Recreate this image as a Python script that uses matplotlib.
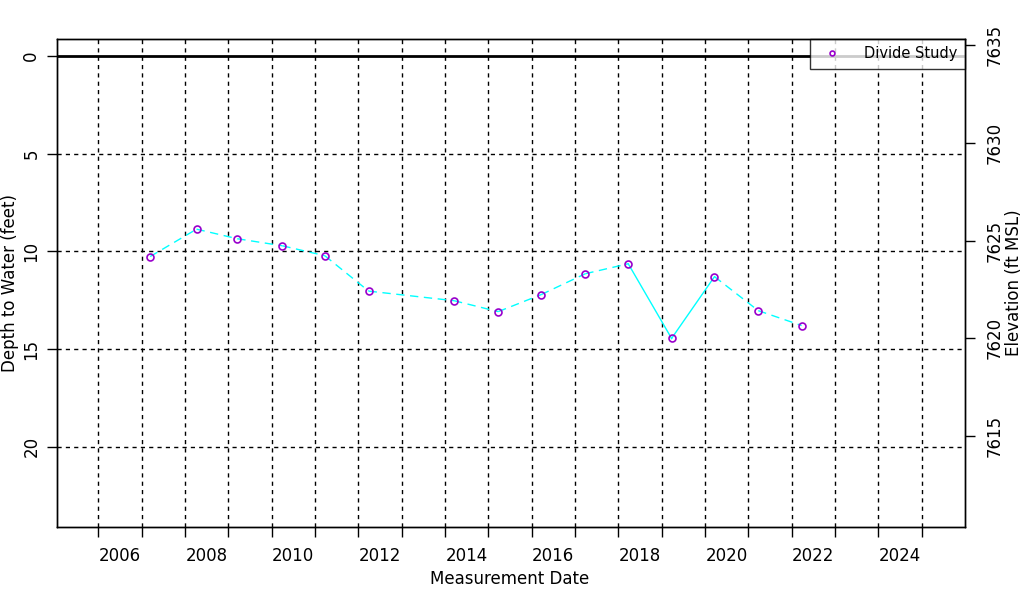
import numpy as np
import matplotlib
matplotlib.use('Agg')
from matplotlib import pyplot as plt

# measurement dates (decimal year) and depth to water (feet)
years = [2007.20, 2008.27, 2009.21, 2010.25, 2011.23, 2012.24, 2014.21, 2015.23,
         2016.22, 2017.24, 2018.23, 2019.23, 2020.22, 2021.23, 2022.23]
depth = [10.26, 8.86, 9.35, 9.71, 10.22, 12.03, 12.52, 13.08,
         12.21, 11.14, 10.63, 14.45, 11.29, 13.03, 13.79]
# segments joined by solid line (consecutive readings one year apart or less)
solid_segments = [(10, 11), (11, 12)]

ground_elev = 7634.45
tick_years = list(range(2006, 2026))
label_years = list(range(2006, 2025, 2))
depth_ticks = [0, 5, 10, 15, 20]
elev_ticks = [7615, 7620, 7625, 7630, 7635]

series_name = 'Divide Study'
line_color = 'cyan'
marker_color = '#9900cc'

plt.rcParams['font.family'] = 'DejaVu Sans'
fig = plt.figure(figsize=(10.24, 6.0), dpi=100)
ax = fig.add_axes([57/1024, 1-527/600, (965-57)/1024, (527-39)/600])

ymin, ymax = -0.87, 24.1
ax.set_xlim(2005.05, 2026.0)
ax.set_ylim(ymax, ymin)

# grid
for yr in tick_years:
    ax.axvline(yr, color='black', lw=1, ls=(0, (3, 3)), zorder=1)
for d in depth_ticks[1:]:
    ax.axhline(d, color='black', lw=1, ls=(0, (3, 3)), zorder=1)
ax.axhline(0, color='black', lw=2, zorder=2)

# connecting lines
for i in range(len(years) - 1):
    ls = '-' if (i, i+1) in solid_segments else (0, (6, 4))
    ax.plot(years[i:i+2], depth[i:i+2], color=line_color, lw=1, ls=ls, zorder=3)
ax.plot(years, depth, ls='none', marker='o', ms=5, mfc='none', mec=marker_color,
        mew=1.2, zorder=4, label=series_name)

ax.set_xticks(tick_years)
ax.set_xticklabels([])
ax.tick_params(axis='x', length=7, width=1)
for yr in label_years:
    ax.text(yr + 0.5, -0.06, str(yr), transform=ax.get_xaxis_transform(),
            ha='center', va='center', fontsize=12)
fig.text(510/1024, 1-579/600, 'Measurement Date', ha='center', va='center', fontsize=12)

ax.set_yticks(depth_ticks)
ax.set_yticklabels([str(d) for d in depth_ticks], rotation=90, va='center', fontsize=12)
ax.tick_params(axis='y', length=7, width=1, pad=5)
fig.text(10/1024, 1-283/600, 'Depth to Water (feet)', rotation=90,
         ha='center', va='center', fontsize=12)

ax2 = ax.twinx()
ax2.set_ylim(ground_elev - ymax, ground_elev - ymin)
ax2.set_yticks(elev_ticks)
ax2.set_yticklabels([str(e) for e in elev_ticks], rotation=90, va='center', fontsize=12)
ax2.tick_params(axis='y', length=7, width=1, pad=8)
fig.text(1014/1024, 1-283/600, 'Elevation (ft MSL)', rotation=90,
         ha='center', va='center', fontsize=12)

for a in (ax, ax2):
    for s in a.spines.values():
        s.set_linewidth(1)
        s.set_color('black')

leg = ax.legend(loc='upper right', fontsize=10.5, frameon=True, fancybox=False,
                borderaxespad=0, handletextpad=1.2, borderpad=0.5,
                handlelength=2.0, markerscale=0.7)
leg.get_frame().set_edgecolor('black')
leg.get_frame().set_linewidth(1)

fig.savefig('out.png', dpi=100)
